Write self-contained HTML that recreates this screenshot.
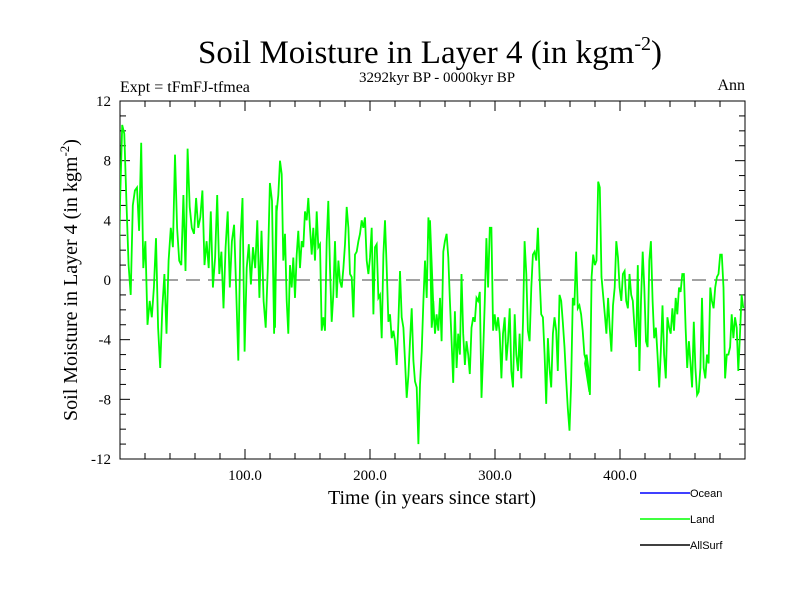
<!DOCTYPE html>
<html><head><meta charset="utf-8"><style>
body{margin:0;background:#fff}
svg{display:block}
text{font-family:"Liberation Serif",serif;fill:#000}
.s{font-family:"Liberation Sans",sans-serif}
</style></head><body>
<svg id="chart" width="800" height="600">
<text x="430" y="63" font-size="33" text-anchor="middle">Soil Moisture in Layer 4 (in kgm<tspan dy="-13" font-size="20">-2</tspan><tspan dy="13">)</tspan></text>
<text x="120" y="92" font-size="16">Expt = tFmFJ-tfmea</text>
<text x="437" y="82" font-size="15" text-anchor="middle">3292kyr BP - 0000kyr BP</text>
<text x="745" y="90" font-size="16" text-anchor="end">Ann</text>
<text x="432" y="504" font-size="20" text-anchor="middle">Time (in years since start)</text>
<text transform="translate(77,280) rotate(-90)" font-size="20" text-anchor="middle">Soil Moisture in Layer 4 (in kgm<tspan dy="-8" font-size="13">-2</tspan><tspan dy="8">)</tspan></text>
<g id="axes"></g>
<g id="series"></g>
<g>
<line x1="640" y1="493" x2="690" y2="493" stroke="#0000ff" stroke-width="1.5"/>
<text class="s" x="690" y="497" font-size="11">Ocean</text>
<line x1="640" y1="519" x2="690" y2="519" stroke="#00ff00" stroke-width="1.5"/>
<text class="s" x="690" y="523" font-size="11">Land</text>
<line x1="640" y1="545" x2="690" y2="545" stroke="#000" stroke-width="1.5"/>
<text class="s" x="690" y="549" font-size="11">AllSurf</text>
</g>
</svg>
<script>
const yTicks=[-12,-8,-4,0,4,8,12];
const yTickLabels=["-12","-8","-4","0","4","8","12"];
const xTicks=[100,200,300,400];
const xTickLabels=["100.0","200.0","300.0","400.0"];
const segStart=[-1.6,124,248,372];
const segEnd=[125,250.7,375.5,498.6];
const land1=[-3.2,5.3,10.4,9.8,5.3,1,-1,5,6,6.2,3.3,9.2,0.8,2.6,-3,-1.4,-2.5,-0.5,2.8,-3.2,-5.9,-1.9,0.4,-3.6,1.3,3.5,2.2,8.4,3.5,1.3,1,5.7,0.6,8.8,4.9,3.5,3.1,5.5,3.5,4.2,6,1,2.6,0.8,4.6,-0.5,1.5,5.7,0.4,1.9,-1.9,2.2,4.6,-0.5,2.6,3.7,-0.7,-5.4,2.6,5.5,-4.8,0.8,2.4,-0.3,2.2,0.8,4,-1.2,3.3,-1.4,-3.2,0.8,6.5,5.3,-3.6,5];
const land2=[-3.2,4.6,5.7,8,7.1,1.3,3.1,-1.4,-3.6,1,-0.5,1.5,-1.2,1.7,3.3,0.8,2.6,2.2,4.6,4,5.5,3.5,1.7,3.5,1.3,4.6,2.2,2.4,-3.4,-2.5,-3.4,2.6,5.3,0.8,-2.8,-1,2.6,-1.2,1.3,-0.1,-0.5,0.8,2.4,4.9,3.5,0.4,0.2,-2.5,1.7,1.9,2.6,3.1,4,3.5,4.2,1.3,0.4,1.5,3.5,-2.3,2.2,2.4,-1.2,-1,-3.9,1.7,4,0.8,-2.8,-2.3,-3.9,-3.4,-4.1,-5.7,-2.8,0.6,-2.5,-3.2,-5.4,-7.9,-6.4,-4.1,-1.9,-5.4,-6.8,-7.2,-11,-7,-4.8,-1.4,1.3,-1.2,4.2,2.6,-3.2,-1.9];
const land3=[4,-3.2,-1.4,-3.6,-2.3,-3.4,-1.2,-4.1,1.9,2.6,3.1,1.5,-1.4,-4.1,-6.9,-2.1,-5.9,-3.6,-5,0.4,-3.6,-5.7,-4.1,-5,-6.3,-3.2,-2.5,-2.8,-1.2,-1.4,-0.8,-7.9,-5,-1.4,2.8,-0.5,3.5,3.5,-3.4,-2.3,-3.4,-2.5,-3.6,-6.6,-3.6,-2.5,-5.4,-4.1,-1.9,-6.1,-7.2,-2.3,-5,-6.1,-3.6,-6.6,-2.8,2.6,0.4,-3.4,-4.1,-0.5,1.7,1.9,1.3,3.5,0.2,-2.3,-2.5,-5,-8.3,-3.9,-5.9,-7.2,-3.6,-2.5,-3.4,-6.1,-1,-1.4,-2.8,-4.5,-6.6,-8.6,-10.1,-7,-1.2,-1.7,1.9,-1.9,-1.7,-2.3,-3.4,-5,-5.4,-5.9,-7.5];
const land4=[-5.6,-5,-5.9,-7.7,0.2,1.7,1,1.3,6.6,6.2,0.2,-1,-2.3,-3.6,-1.2,-3.2,-4.8,-1.7,-0.5,2.6,1.5,-0.5,-1.4,0.4,0.6,-1.4,-1.9,0.4,-1,-1.4,-3.2,-4.5,1,-6.1,-1.4,1.9,-0.5,-4.1,-4.5,1.3,2.6,-1.4,-3.9,-3.2,-5,-7.2,-4.8,-1.7,-5,-6.6,-2.5,-3.2,-3.6,-1.9,-3.4,-1.2,-2.3,-0.5,-0.8,0.4,0.4,-3.2,-5.9,-4.1,-5.6,-7.2,-2.8,-5.9,-7.7,-7.5,-5.9,-1.2,-5.9,-6.6,-5,-5.6,-0.5,-1.4,-1.9,-0.5,0.2,0.4,1.7,1.7,-0.5,-6.6,-5,-5,-4.5,-2.3,-3.9,-2.5,-3.2,-6.1,-3.6,-1,-1.9];
const segments=[land1,land2,land3,land4];

const L=120,R=745,T=101,B=459;
const xS=v=>L+(v-0)/(500-0)*(R-L);
const yS=v=>B-(v+12)/24*(B-T);
const NS="http://www.w3.org/2000/svg";
function mk(tag,attrs,parent){const e=document.createElementNS(NS,tag);for(const k in attrs)e.setAttribute(k,attrs[k]);parent.appendChild(e);return e;}
const ax=document.getElementById('axes');
for(let v=-12;v<=12;v++){
 const len=(v%4===0)?10:6;
 const t1=mk('line',{x1:L,x2:L+len,y1:yS(v),y2:yS(v),stroke:'#000','stroke-width':1},ax);
 
 
 const t2=mk('line',{x1:R,x2:R-len,y1:yS(v),y2:yS(v),stroke:'#000','stroke-width':1},ax);
 
 
}
for(let v=20;v<500;v+=20){
 const len=(v%100===0)?10:6;
 const t1=mk('line',{x1:xS(v),x2:xS(v),y1:B,y2:B-len,stroke:'#000','stroke-width':1},ax);
 
 
 const t2=mk('line',{x1:xS(v),x2:xS(v),y1:T,y2:T+len,stroke:'#000','stroke-width':1},ax);
 
 
}
yTicks.forEach((v,i)=>{
 const t=mk('text',{x:L-9,y:yS(v)+5,'font-size':15,'text-anchor':'end'},ax);
 t.textContent=yTickLabels[i];
 
 
});
xTicks.forEach((v,i)=>{
 const t=mk('text',{x:xS(v),y:B+21,'font-size':15,'text-anchor':'middle'},ax);
 t.textContent=xTickLabels[i];
 
 
});
const zl=mk('line',{x1:L,x2:R,y1:yS(0),y2:yS(0),stroke:'#444','stroke-width':1,'stroke-dasharray':'14,8'},ax);


const fr=mk('rect',{x:L,y:T,width:R-L,height:B-T,fill:'none',stroke:'#000','stroke-width':1},ax);


const sg=document.getElementById('series');
const clip=mk('clipPath',{id:'pc'},sg);
mk('rect',{x:L,y:T,width:R-L,height:B-T},clip);
let pts=[];
segments.forEach((arr,s)=>{
 const n=arr.length;
 arr.forEach((v,i)=>{
  const yr=segStart[s]+(segEnd[s]-segStart[s])*i/(n-1);
  pts.push(xS(yr).toFixed(1)+','+yS(v).toFixed(1));
 });
});
const pl=mk('polyline',{points:pts.join(' '),fill:'none',stroke:'#00ff00','stroke-width':1.8,'clip-path':'url(#pc)'},sg);


</script>
</body></html>
